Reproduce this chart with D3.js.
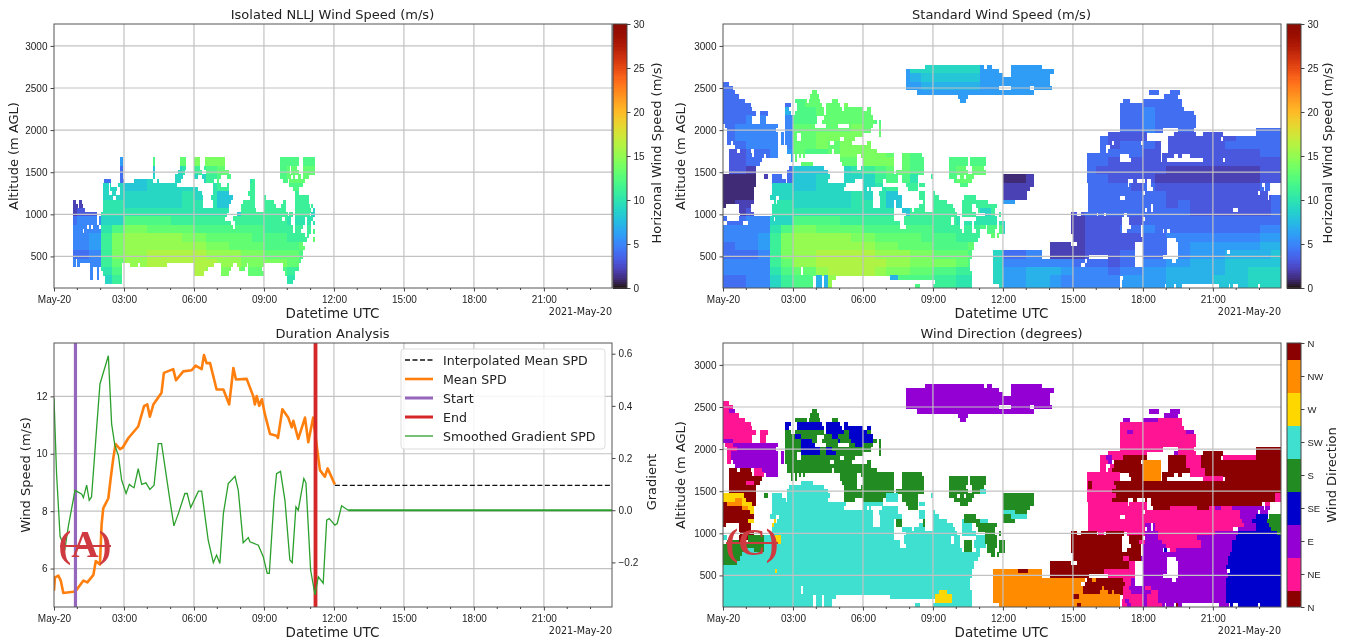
<!DOCTYPE html>
<html>
<head>
<meta charset="utf-8">
<script src="https://cdn.jsdelivr.net/npm/d3@7"></script>
<style>
  html, body { margin: 0; background: #fff; }
  svg { display: block; filter: blur(0.45px); font-family: "DejaVu Sans", sans-serif; }
  .tick text { font-size: 10px; fill: #222; }
  .tick line { stroke: #444; }
  .domain { display: none; }
</style>
</head>
<body>
<svg id="chart" width="1348" height="643"></svg>
<script>
// ---- axis labels
var hourTicks = [0, 3, 6, 9, 12, 15, 18, 21];
var hourLabels = ["May-20", "03:00", "06:00", "09:00", "12:00", "15:00", "18:00", "21:00"];
var altTicks = [500, 1000, 1500, 2000, 2500, 3000];
var speedBarTicks = [0, 5, 10, 15, 20, 25, 30];
var dirLabels = ["N", "NW", "W", "SW", "S", "SE", "E", "NE", "N"];
var dirColors = ["#8b0000", "#ff8c00", "#ffd700", "#40e0d0", "#228b22", "#0000cd", "#9400d3", "#ff1493", "#8b0000"];
var dirCodes = { n: "#8b0000", o: "#ff8c00", w: "#ffd700", t: "#40e0d0", s: "#228b22", b: "#0000cd", e: "#9400d3", p: "#ff1493" };

// ---- wind direction, one row per altitude: code + start-end in 10 minute steps
var dirRows = [
"2750 e52-67 e68-69 e74-82",
"2700 e47-71 e74-85",
"2650 e47-72 e74-84",
"2600 e47-84",
"2550 p0-1.5 e47-84",
"2500 p0-2.5 e47-71 e74-79 e80-84.5",
"2450 p0-1.5 e1.5-3 s23-24 e50-53 e53-80 e109.5-112 e115-117.5",
"2400 p0-4 s22.5-24.5 e60.5-63 e113.5-117",
"2350 p0-5.5 s18.5-21.5 s22-25 s28-29.5 e61-62.5 e103-104.5 e108-112 p112-118",
"2300 p0-7 b16-17.5 b19-25.5 b26.5-30 b31-32 p102-118",
"2250 p0-7.5 b16-17 b19-26 b26.5-30.5 b31-36 b37-38 p102-118.5",
"2200 p0-8.5 p9.5-11.5 s16-17.5 s18.5-26 b26.5-31 s31-32.5 b32.5-37 s37-38 p102-104 e104-105.5 p105.5-119 e119-121",
"2150 p0-7.5 p9.5-11 s16-18.5 b18.5-20 s20-24 s26-28 b28-29.5 s29.5-32.5 b32.5-38.5 p102-121.5",
"2100 e0-2.5 p2.5-7.5 p9.5-11 s16-20 b20-23 s23-24 s25.5-29.5 b29.5-30 s30-33 b33-38.5 s38.5-39.5 s40-40.5 p102-121.5",
"2050 p0.5-2.5 e2.5-14 s16-20 b20-23.5 s26.5-29.5 s32.5-34 b34-36 s36-38.5 s40-40.5 p102-121.5",
"2000 p1-3.5 e3.5-13.5 s16-20 b20-25 s25-26.5 b26.5-28 s28-38 s40-40.5 p102-113 p117-121 n137-144.5",
"1950 p1-2 e2-14 e15-15.5 s16-19 b20-25 s25-26.5 b26.5-29 s29-36 s40-40.5 p99-109 e116-117 p117-121.5 n123.5-128.5 n137-144.5",
"1900 p1-2 e2-14 e15-15.5 s16-19 s20-30 s31-34 p97-98.5 e98.5-100 p100-103 n103-109 n114.5-119 p119-123 n123-128 p128.5-137 n137-144.5",
"1850 p1-2 e2.5-14 e15-15.5 s16-27.5 s28.5-33 s37-38 p97-99 e99-100 n100.5-107.5 o108-112.5 n114.5-119 p119-123 n123-144.5",
"1800 e3-14 s16.5-29 s29-38 p97-98.5 p99.5-100.5 n100.5-108 o108-112.5 n114.5-119 p119-123 n123-144.5",
"1750 n1.5-3.5 n4.5-7 p8-10 e10-14 s16.5-28 s28.5-39.5 p97-98.5 p99-100 n100-108 o108-112.5 n114.5-120 p120-124 n124-144.5",
"1700 n1.5-7.5 p8-10.5 e11-14 s17.5-18 s18.5-19 s19.5-20 s20.5-21 s30-34.5 s35.5-44 s46-51 p93.5-102 n104.5-108 o108-112.5 n113-116 n117-118 p120-124 n124-144.5",
"1650 n1.5-10 s17.5-18 s18.5-19 s30-34.5 s36-44 s46-51.5 s58-63 s63.5-67.5 p93.5-102 n105-108 o108-112.5 n113-114 p123.5-128.5 n129-144.5",
"1600 n1.5-6 p6-8 n8-9.5 t20-23 s30.5-34.5 s36-44 s46-51.5 s58-63 s63.5-67.5 p93.5-94 n94-95 p95-100.5 n100.5-144.5",
"1550 n1.5-8.5 t17-26 s31-34.5 s35.5-44 s46-51.5 s58-62.5 s64-67 p93.5-94 n94-95 p95-101 n101-144.5",
"1500 n1.5-8.5 t16.5-27 s31-44 s44.5-51.5 s58-63 s64-66 t66-67.5 p93.5-100 n100-144.5",
"1450 w0-5.5 n5.5-8.5 s10.5-11.5 t12.5-15 t16.5-27.5 s31-43 t42-45 s46-50 t53.5-54 s58-60 s61-62 s62.5-64.5 s72-80 p93.5-101 n101-142 p142-144.5",
"1400 w0-3 o3-5 w5-6 n6-8.5 t12.5-16 t16.5-27 s31-34 s36-41 t42-45 s46-50 s59.5-64 s72-80 p93.5-100 n100-104 n105.5-106.5 n108.5-109 n110-142 p142-144.5",
"1350 n0-1 o1-5 w5-7.5 n7.5-8.5 t12.5-16 t16-31.5 t36-41 s47-50 t50.5-52 s61-63 s72-80 p94-104 p104.5-109 n110-138.5 p139.5-140.5",
"1300 n0-5 o5-6.5 w6.5-8 t12.5-31 t36-37 t37.5-38 t41-45 s47.5-50 s72-79 p94-109 n110.5-115 p115-122 n122-125 p125-126.5 e126.5-128 p128-131 e131-139 e139.5-140.5",
"1250 n0-7 w7-8 t12.5-38.5 t40-45 t50.5-52 t54-54.5 t72-75 s75-78 p94-108 p108.5-133 e133-137.5 e138-140",
"1200 n0-8 t12-13.5 t14.5-38.5 t40.5-46 t50.5-52 t54-55.5 s62-65 s72-74 t74-78 p94-102 p103.5-133 e133-137 b137-140 s140.5-144",
"1150 n0-6.5 w6.5-8 w13-13.5 t14-38.5 t40.5-44 s44.5-46 s51.5-52 t54-57.5 t61.5-62 s62-66 t66-68 s72-75 p94-133.5 e133.5-136 b136-140 s140-144.5",
"1100 n0-0.7 n4-7 w12.5-13 t13-38.5 t40.5-44 s44.5-46 t50.5-51.5 s51.5-52 t54-59 t61.5-64 s65-70.5 p94-108.5 e108.5-110 e110.5-111 p111-134 e134-137 b137-140.5 s140.5-143.5",
"1050 n4-7 t12.5-44 t46-48.5 t49-52 t54-59.5 t61.5-64 s65.5-70 p94-108.5 e109-110 e110.5-111 p111-131 e132.5-137 b137-141 s141-144.5",
"1000 n4.5-8 t12.5-44 t47-60 t61.5-65 s67.5-70 s71-71.5 n89.5-91 n92-96 p96.5-98 n98.5-103 p104-108.5 e108.5-112 p112-126.5 e126.5-132.5 b132.5-142.5 s142.5-144",
"950 t0-1 n4-7 s6.5-10.5 t10.5-13 w13.5-15 t15-44 t46.5-58.5 t59.5-61 t65-67.5 s67.5-70.5 n89.5-102.5 n104.5-108 e108.5-112 p112-122 e122-132 b132-144.5",
"900 s1-4 n4-5 s6.5-10.5 t10.5-13.5 w13.5-15 t15-45.5 t46.5-58.5 t59.5-61 s62-64 t64.5-67.5 s67.5-70.5 s71-72.5 n89.5-102.5 n104.5-107 p107-108.5 e108.5-113 p113-123 e123-131 b131-144.5",
"850 s0-10.5 t10.5-45.5 t47-61 s62-64 t64.5-67.5 s68-70.5 s71-72.5 n89.5-102.5 n105-107.5 e108-114 p114-123 e123-131 b131-144.5",
"800 s0-6 t6-8 s8-10.5 t10.5-61.5 s62-64 t65-66 s68-70 s71-72.5 n89.5-102.5 n104-107.5 e108-113 b113.5-114 p115-116.5 e116.5-131 b131-144.5",
"750 s0-5 t5-65 t65-66 s69-70 s70.5-71 n90-107.5 e108-115 e115-130.5 b130.5-144.5",
"700 s0-4.5 t4.5-65.5 n90-103 p103-104.5 n104.5-107.5 e107.5-114 e116.5-130 b130-144.5",
"650 s0-3.5 t3.5-64.5 n84-89.5 n91-104.5 p104.5-106 e108-114 e117-130 b130-144.5",
"600 t0-64.5 n84-104.5 p104.5-106 e108-114 e117-130 b129.5-144.5",
"550 t0-13.5 w13.5-14 t14-64 o69.5-76 n76-78.5 o78.5-82 n84-98 p98-106 e108-114 e117-129.5 b130.5-144.5",
"500 t0-64 o69.5-82 n84-94 p99-106 e108-113 e117-130 b130-144.5",
"450 t0-63.5 o69.5-93 n93.5-95 o95-96 n96-103 p103-105 e105-106 e108-115.5 e116.5-129.5 b129.5-144.5",
"400 t0-63.5 o69.5-92 n93-103.5 p103.5-105 e105-106 e108-129.5 b129.5-144.5",
"350 t0-20 t20.7-63.5 o69.5-92.5 n92.5-97.5 o97.5-98 n98-103 p103-104.5 e104.5-108.5 p108.5-110 e110-129.5 b129.5-144.5",
"300 t0-20 t20.5-55.5 w55.5-57.5 t57.5-64 o69.5-92.5 n92.5-97 o97-99 n99-100 o100-100.5 n100.5-103 p103-105 e105-110 p110-112 e112-129.5 b129.5-144.5",
"250 t0-23 t24-25.5 t26-29 t43-54.5 w54.5-59 t59-64 o69.5-90 n90-91.5 o91.5-102 p103-108 e108-109 p109-112 e112-129.5 b129.5-144.5",
"200 t0-23 t24-25.5 t26-28 w54.5-59 t59-64 o69.5-102 p102.5-103.5 e103.5-104.5 p104.5-108 e108-109 p109-112 e112-129.5 b129.5-144.5",
"150 t0-23 t24-25.5 t26-28 t49.5-50.5 t54-64 o71-91 n91-92 o92-102 p102.5-104 e104-105 p105-108 e108-109 p109-113 e113-113.5 e114-116 n116.5-117 e117-118 e127.5-130 b130.5-131 b132.5-137.5 b138-144.5"
];

// ---- wind speed in m/s, read per 100 m (2800 down to 200) and half hour, 0-9 then a=10 ... h=17
var speedRows = [
"444444 666666 666999 999966 666666 444444 444444 444444",
"444444 666666 666699 999966 666666 444444 444444 444444",
"444444 666666 666678 888866 666666 444444 444444 444444",
"444444 666666 666667 777766 666666 444444 444444 444444",
"444444 ddddee dddd66 666666 666666 444444 444444 444444",
"444444 cdddee ddcccc 666666 666666 444444 444444 444444",
"444457 ccdddd dcbbbb 666666 666666 444444 544444 444444",
"445555 ccdddd dccccc 666666 666666 444444 544444 444444",
"455555 ddddde ddcccc 666666 666666 444444 544444 444444",
"455555 ddeeee dddccc 666666 556666 444333 333333 334444",
"445555 ddedee eddccc 666666 556666 444344 433333 344444",
"334456 dccdee eeddcc cccccc 556666 444444 333333 333344",
"334456 ddcddd eeedcc cccccc 556666 444333 333333 333333",
"332444 88899a bcddcc ccdddd 111166 443333 332222 222233",
"111244 889999 9bccab ccdddd 112266 444333 322222 222233",
"111199 889999 9abbbb bbcccc 222266 444443 433333 333344",
"111299 99999a 9a88bb bbbbbb 223366 444444 443333 333334",
"1223aa 99999a aa88bb bbbbbb 666666 444444 443433 333334",
"2233aa aaaaaa aaa8bb bbbb9b 999992 344444 444433 333334",
"445599 ccccbb bbbbbb bbaaaa 999992 233333 444444 444444",
"5555ac eedddd cccccc bbbbcc 999992 233344 544444 444455",
"5556be fffffe eddddc ccbbdd 999992 233333 445555 555566",
"4556be ffffff feeddd cccdcc 999922 233333 445566 666677",
"4445be ffgggg gfffee dddcc9 445522 233344 445566 677778",
"5555bd ffgggg ggffee eedcc9 555555 444344 556677 788888",
"5555ac ddfggg gfeedd ccbbb9 667776 555455 667777 788999",
"44559b cc7fff ee7ccc bbaaa9 667765 555566 667777 888999"
];

// ---- cells kept by the isolated NLLJ panel, start-end in 10 minute steps
var isoRows = [
"1650 17-17.7 25.5-26 32.3-34 36-37.5 38.8-44 58-63 64-67",
"1600 17-17.7 25.5-26 32.3-34 36-37.5 38.8-44 58-63 64-67",
"1550 17-17.7 25.5-26 32.5-34 36-37.5 38.5-44 58-60.5 61-62.5 64-67",
"1500 17-17.7 25.5-26 32-33.7 36-38 39-45 58-60.5 61-63 64-67",
"1450 17-17.7 25.5-26 31-33 36-37 38-43 44.5-45.5 58-61 61.5-62 62.7-63.5 64-65.5",
"1400 12.8-13.7 14-14.5 17-18 20.5-25.5 26.5-27 31-32.5 38.5-41 41.8-42.3 50.5-51.5 59-60 60.5-64.5",
"1350 12.5-14 14.5-14.7 16.5-31.5 41-43 44.5-45 50.5-51.5 60.5-64",
"1300 12.5-14 14.5-16 17-37 41-45 50.5-51.5 61.5-63",
"1250 12.5-14 15-15.8 17-38 41-45 50-51.5 62-63",
"1200 12.5-15 16-38.3 40.5-46 50.5-51.5 54-54.5 62-65.5",
"1150 5-5.7 6.5-7 12.5-38.3 40.8-45.5 48.5-51.5 54-56.5 59-59.5 62-65.5",
"1100 5-6 6.5-7.5 12.5-38.3 40.8-45 48-51.5 54-57 58.5-59.5 62-65.8 66-66.5",
"1050 5-8 12.5-45 48-52 54-59.5 62-66 66.5-67",
"1000 5-11 12-44.5 47-60 60.5-61.5 62-65.8 66.2-67",
"950 5-11 11.5-44 46-58.5 59.5-61 62-64.5 65-66.5",
"900 5-11 11.5-45.5 46.5-61 62-64.5 65-66 66.5-67",
"850 5-8.5 9-9.5 10-11.5 12-46 46.5-61.5 62-64 65-66",
"800 5-7.5 7.8-61.5 62-63.5 65-66 66.5-67",
"750 5-64.5 65-65.5",
"700 5-65 66.5-67",
"650 5-64",
"600 5-64.5",
"550 5-64",
"500 5-64",
"450 5-5.5 6-63.5",
"400 5-5.5 6-6.5 9.3-17.5 19.5-21.5 22-29 36-41 43-46 47-49.5 50-54 59-63",
"350 9.3-10 11-11.5 12-17.5 36-39.5 43-45.5 47.5-49 50-53.5 59-63",
"300 9.3-10 11-11.5 12.5-17.5 36-38.5 43-45 50-54 59.5-62",
"250 9.3-10 11-11.5 13-17.5 60-62",
"200 13-17.5 60-61.5"
];

// ---- duration analysis series
var meanHours = [0,0.04,0.19,0.29,0.40,0.83,0.97,1.26,1.43,1.69,1.79,1.97,2.04,2.11,2.33,2.43,2.54,2.64,2.83,2.94,3.19,3.61,3.86,4.00,4.11,4.26,4.61,4.71,5.11,5.23,5.54,5.90,6.07,6.33,6.43,6.54,6.69,6.97,7.26,7.51,7.69,7.80,8.26,8.54,8.61,8.69,8.80,8.91,9.04,9.26,9.54,9.60,9.79,10.04,10.19,10.26,10.47,10.76,10.90,11.11,11.26,11.40,11.61,11.73,12.04];
var meanSpd = [5.23,5.69,5.75,5.58,5.15,5.19,5.26,5.58,5.52,5.78,6.26,6.14,7.53,8.10,8.45,9.14,9.83,10.34,10.16,10.21,10.55,10.95,11.66,11.72,11.29,11.72,12.13,12.82,12.95,12.56,12.87,12.91,13.07,12.95,13.44,13.16,13.16,12.24,12.24,11.72,12.99,12.59,12.61,12.01,11.72,12.01,11.67,11.90,11.38,10.69,10.63,10.55,11.55,11.26,10.92,11.15,10.52,11.26,10.40,11.26,10.29,9.43,9.20,9.49,8.93];
var interpHours = [12.04, 24];
var interpSpd = [8.9, 8.9];
var gradHours = [0,0.11,0.26,0.47,0.61,0.90,1.19,1.26,1.40,1.51,1.61,1.83,1.97,2.33,2.47,2.61,2.76,2.90,3.09,3.23,3.33,3.43,3.61,3.76,3.94,4.11,4.29,4.47,4.61,4.97,5.14,5.33,5.61,5.71,5.86,6.19,6.33,6.61,6.83,6.97,7.11,7.26,7.47,7.76,7.90,8.11,8.33,8.40,8.76,8.97,9.14,9.23,9.43,9.54,9.71,9.90,10.11,10.21,10.37,10.47,10.71,10.80,11.00,11.19,11.33,11.54,11.69,11.80,12.04,12.14,12.33,12.61];
var gradSpd = [0.43,0.14,-0.10,-0.147,-0.064,0.076,0.061,0.048,0.096,0.038,0.051,0.318,0.484,0.592,0.331,0.248,0.210,0.115,0.064,0.099,0.092,0.086,0.159,0.099,0.105,0.080,0.096,0.255,0.255,0.038,-0.060,-0.013,0.064,0.064,0.010,0.073,0.073,-0.115,-0.201,-0.172,-0.204,-0.013,0.102,0.130,0.076,-0.125,-0.105,-0.121,-0.134,-0.178,-0.242,-0.242,0.038,0.140,0.149,0.038,-0.191,-0.201,0.013,0,0.121,0.105,-0.229,-0.325,-0.255,-0.280,-0.038,-0.032,-0.057,-0.051,0.017,0];
var gradTailHours = [12.61, 24];
var gradTail = [0, 0];
var startHour = 0.92;
var endHour = 11.21;
var legendNames = ["Interpolated Mean SPD", "Mean SPD", "Start", "End", "Smoothed Gradient SPD"];

var svg = d3.select("#chart");
var plotW = 558, plotH = 264;
var plots = {
    tl: { x: 54, y: 24 },
    tr: { x: 723, y: 24 },
    bl: { x: 54, y: 343 },
    br: { x: 723, y: 343 }
};

var x = d3.scaleLinear().domain([0, 23.92]).range([0, plotW]);
var y = d3.scaleLinear().domain([125, 3260]).range([plotH, 0]);
var ySpd = d3.scaleLinear().domain([4.66, 13.86]).range([plotH, 0]);
var yGrad = d3.scaleLinear().domain([-0.371, 0.641]).range([plotH, 0]);
var speedColor = function(v) { return d3.interpolateTurbo(v / 30); };

function parseRuns(rows) {
    var out = [];
    rows.forEach(function(row) {
        var parts = row.split(" ");
        var alt = +parts[0];
        parts.slice(1).forEach(function(p) {
            var m = p.match(/^([a-z]?)([\d.]+)-([\d.]+)$/);
            out.push({ alt: alt, code: m[1], from: +m[2], to: +m[3] });
        });
    });
    return out;
}

var speedTable = speedRows.map(function(r) { return r.replace(/ /g, ""); });
function speedAt(alt, col) {
    var row = speedTable[Math.min(26, Math.round((2800 - alt) / 100))];
    return parseInt(row[Math.min(47, Math.floor(col / 3))], 18);
}

// split a run on the 10 minute grid so each piece takes its own speed
function speedCells(runs) {
    var cells = [];
    runs.forEach(function(r) {
        var c = r.from;
        while (c < r.to) {
            var next = Math.min(r.to, Math.floor(c) + 1);
            cells.push({ alt: r.alt, from: c, to: next, v: speedAt(r.alt, c) });
            c = next;
        }
    });
    return cells;
}

function panel(p, id) {
    var g = svg.append("g").attr("transform", "translate(" + p.x + "," + p.y + ")");
    svg.append("clipPath").attr("id", id).append("rect").attr("width", plotW).attr("height", plotH);
    return g;
}

function drawRuns(g, id, data, color) {
    g.append("g").attr("clip-path", "url(#" + id + ")")
        .attr("shape-rendering", "crispEdges")
        .selectAll("rect").data(data).enter().append("rect")
        .attr("x", function(d) { return x(d.from / 6); })
        .attr("width", function(d) { return x(d.to / 6) - x(d.from / 6) + 0.3; })
        .attr("y", function(d) { return y(d.alt + 25); })
        .attr("height", function(d) { return y(d.alt - 25) - y(d.alt + 25) + 0.3; })
        .attr("fill", color);
}

function drawGrid(g, yScale, ticks) {
    var grid = g.append("g").attr("stroke", "#c2c2c2").attr("stroke-width", 1.2);
    grid.selectAll("line.v").data(hourTicks.slice(1)).enter().append("line")
        .attr("x1", x).attr("x2", x).attr("y1", 0).attr("y2", plotH);
    grid.selectAll("line.h").data(ticks).enter().append("line")
        .attr("y1", yScale).attr("y2", yScale).attr("x1", 0).attr("x2", plotW);
}

function drawFrame(g, title, yScale, yTicks, yLabel, yFmt, labelX) {
    g.append("rect").attr("width", plotW).attr("height", plotH)
        .attr("fill", "none").attr("stroke", "#555").attr("stroke-width", 1);
    var xAxis = d3.axisBottom(x).tickValues(hourTicks).tickSize(3.5).tickPadding(4)
        .tickFormat(function(d, i) { return hourLabels[i]; });
    g.append("g").attr("transform", "translate(0," + plotH + ")").call(xAxis);
    var minor = d3.range(1, 24).filter(function(h) { return h % 3 !== 0; });
    g.append("g").selectAll("line").data(minor).enter().append("line")
        .attr("x1", x).attr("x2", x).attr("y1", plotH).attr("y2", plotH + 2)
        .attr("stroke", "#444");
    g.append("g").call(d3.axisLeft(yScale).tickValues(yTicks).tickSize(3.5).tickPadding(3).tickFormat(yFmt));
    g.append("text").attr("x", plotW / 2 - 0.5).attr("y", -5.5).attr("text-anchor", "middle")
        .attr("font-size", 13).attr("fill", "#222").text(title);
    g.append("text").attr("x", plotW / 2 - 0.5).attr("y", plotH + 30).attr("text-anchor", "middle")
        .attr("font-size", 13.5).attr("fill", "#222").text("Datetime UTC");
    g.append("text").attr("x", plotW).attr("y", plotH + 27).attr("text-anchor", "end")
        .attr("font-size", 9.6).attr("fill", "#222").text("2021-May-20");
    g.append("text").attr("transform", "translate(" + labelX + "," + plotH / 2 + ") rotate(-90)")
        .attr("text-anchor", "middle").attr("font-size", 13).attr("fill", "#222").text(yLabel);
}

function speedBar(g, barX, labelX) {
    var bar = g.append("g").attr("transform", "translate(" + barX + ",0)");
    var yBar = d3.scaleLinear().domain([0, 30]).range([plotH, 0]);
    bar.append("g").attr("shape-rendering", "crispEdges")
        .selectAll("rect").data(d3.range(0, 30, 0.25)).enter().append("rect")
        .attr("width", 14)
        .attr("y", function(d) { return yBar(d + 0.25); })
        .attr("height", yBar(0) - yBar(0.25) + 0.5)
        .attr("fill", speedColor);
    bar.append("rect").attr("width", 14).attr("height", plotH).attr("fill", "none").attr("stroke", "#444");
    bar.append("g").attr("transform", "translate(14,0)")
        .call(d3.axisRight(yBar).tickValues(speedBarTicks).tickSize(3.5).tickPadding(3));
    g.append("text").attr("transform", "translate(" + labelX + "," + (plotH / 2 - 3) + ") rotate(-90)")
        .attr("text-anchor", "middle").attr("font-size", 13).attr("fill", "#222")
        .text("Horizonal Wind Speed (m/s)");
}

function stamp(g, label, px, py, lineFrom, lineTo, lineY) {
    g.append("text").attr("x", px).attr("y", py).attr("text-anchor", "middle")
        .attr("font-family", "Liberation Serif").attr("font-weight", "bold")
        .attr("font-size", 38).attr("fill", "#cf3a40").text(label);
    g.append("line").attr("x1", lineFrom).attr("x2", lineTo).attr("y1", lineY).attr("y2", lineY)
        .attr("stroke", "#cf3a40").attr("stroke-width", 2);
}

var dirRuns = parseRuns(dirRows);
var isoRuns = parseRuns(isoRows);
var altFmt = function(d) { return d; };

// top left
var tl = panel(plots.tl, "clip-tl");
drawRuns(tl, "clip-tl", speedCells(isoRuns), function(d) { return speedColor(d.v); });
drawGrid(tl, y, altTicks);
drawFrame(tl, "Isolated NLLJ Wind Speed (m/s)", y, altTicks, "Altitude (m AGL)", altFmt, -36);
speedBar(tl, plotW + 1, 607);

// top right
var tr = panel(plots.tr, "clip-tr");
drawRuns(tr, "clip-tr", speedCells(dirRuns), function(d) { return speedColor(d.v); });
drawGrid(tr, y, altTicks);
drawFrame(tr, "Standard Wind Speed (m/s)", y, altTicks, "Altitude (m AGL)", altFmt, -38);
speedBar(tr, plotW + 6, 609);

// bottom left
var bl = panel(plots.bl, "clip-bl");
drawGrid(bl, ySpd, [6, 8, 10, 12]);
var clipLine = bl.append("g").attr("clip-path", "url(#clip-bl)");
var lineOf = function(xs, scale) {
    return d3.line().x(function(d, i) { return x(xs[i]); }).y(function(d) { return scale(d); });
};
clipLine.append("path").datum(interpSpd).attr("d", lineOf(interpHours, ySpd))
    .attr("fill", "none").attr("stroke", "#111").attr("stroke-width", 1.4).attr("stroke-dasharray", "5 2.5");
clipLine.append("path").datum(meanSpd).attr("d", lineOf(meanHours, ySpd))
    .attr("fill", "none").attr("stroke", "#ff7f0e").attr("stroke-width", 2.6).attr("stroke-linejoin", "round");
clipLine.append("line").attr("x1", x(startHour)).attr("x2", x(startHour)).attr("y1", 0).attr("y2", plotH)
    .attr("stroke", "#9467bd").attr("stroke-width", 3.2);
clipLine.append("line").attr("x1", x(endHour)).attr("x2", x(endHour)).attr("y1", 0).attr("y2", plotH)
    .attr("stroke", "#d62728").attr("stroke-width", 3.8);
clipLine.append("path").datum(gradSpd).attr("d", lineOf(gradHours, yGrad))
    .attr("fill", "none").attr("stroke", "#2ca02c").attr("stroke-width", 1.3);
clipLine.append("path").datum(gradTail).attr("d", lineOf(gradTailHours, yGrad))
    .attr("fill", "none").attr("stroke", "#2ca02c").attr("stroke-width", 2);
drawFrame(bl, "Duration Analysis", ySpd, [6, 8, 10, 12], "Wind Speed (m/s)", altFmt, -24);
bl.append("g").attr("transform", "translate(" + plotW + ",0)")
    .call(d3.axisRight(yGrad).tickValues([-0.2, 0, 0.2, 0.4, 0.6]).tickSize(3.5).tickPadding(3)
        .tickFormat(function(d) { return d === 0 ? "0.0" : d3.format(".1f")(d).replace("-", "\u2212"); }));
bl.append("text").attr("transform", "translate(602,139) rotate(-90)")
    .attr("text-anchor", "middle").attr("font-size", 13).attr("fill", "#222").text("Gradient");

// legend
var legend = bl.append("g").attr("transform", "translate(347,6)");
legend.append("rect").attr("width", 204).attr("height", 100).attr("rx", 3)
    .attr("fill", "#fff").attr("fill-opacity", 0.85).attr("stroke", "#ddd");
var legendStyle = [
    { c: "#111", w: 1.4, dash: "5 2.5" },
    { c: "#ff7f0e", w: 2.6 },
    { c: "#9467bd", w: 3 },
    { c: "#d62728", w: 3 },
    { c: "#2ca02c", w: 1.3 }
];
var legendY = d3.scalePoint().domain(legendNames).range([11, 87]);
legendNames.forEach(function(name, i) {
    legend.append("line").attr("x1", 4).attr("x2", 32).attr("y1", legendY(name)).attr("y2", legendY(name))
        .attr("stroke", legendStyle[i].c).attr("stroke-width", legendStyle[i].w)
        .attr("stroke-dasharray", legendStyle[i].dash || null);
    legend.append("text").attr("x", 42).attr("y", legendY(name) + 4.5)
        .attr("font-size", 12.6).attr("fill", "#222").text(name);
});
stamp(bl, "(A)", 31, 214, 6, 57, 203);

// bottom right
var br = panel(plots.br, "clip-br");
drawRuns(br, "clip-br", dirRuns, function(d) { return dirCodes[d.code]; });
drawGrid(br, y, altTicks);
drawFrame(br, "Wind Direction (degrees)", y, altTicks, "Altitude (m AGL)", altFmt, -38);
var dirBar = br.append("g").attr("transform", "translate(" + (plotW + 6) + ",0)");
var yDir = d3.scaleLinear().domain([0, 8]).range([0, plotH]);
dirBar.append("g").attr("shape-rendering", "crispEdges")
    .selectAll("rect").data(dirLabels).enter().append("rect")
    .attr("width", 14)
    .attr("y", function(d, i) { return yDir(Math.max(0, i - 0.5)); })
    .attr("height", function(d, i) { return yDir(Math.min(8, i + 0.5)) - yDir(Math.max(0, i - 0.5)); })
    .attr("fill", function(d, i) { return dirColors[i]; });
dirBar.append("rect").attr("width", 14).attr("height", plotH).attr("fill", "none").attr("stroke", "#444");
dirBar.append("g").attr("transform", "translate(14,0)")
    .call(d3.axisRight(yDir).tickValues(d3.range(0, 9)).tickSize(3.5).tickPadding(3)
        .tickFormat(function(d, i) { return dirLabels[i]; }));
dirBar.selectAll(".tick text").style("font-size", "9.5px");
br.append("text").attr("transform", "translate(613,132) rotate(-90)")
    .attr("text-anchor", "middle").attr("font-size", 13).attr("fill", "#222").text("Wind Direction");
stamp(br, "(C)", 29, 212, 3, 55, 200);
</script>
</body>
</html>
